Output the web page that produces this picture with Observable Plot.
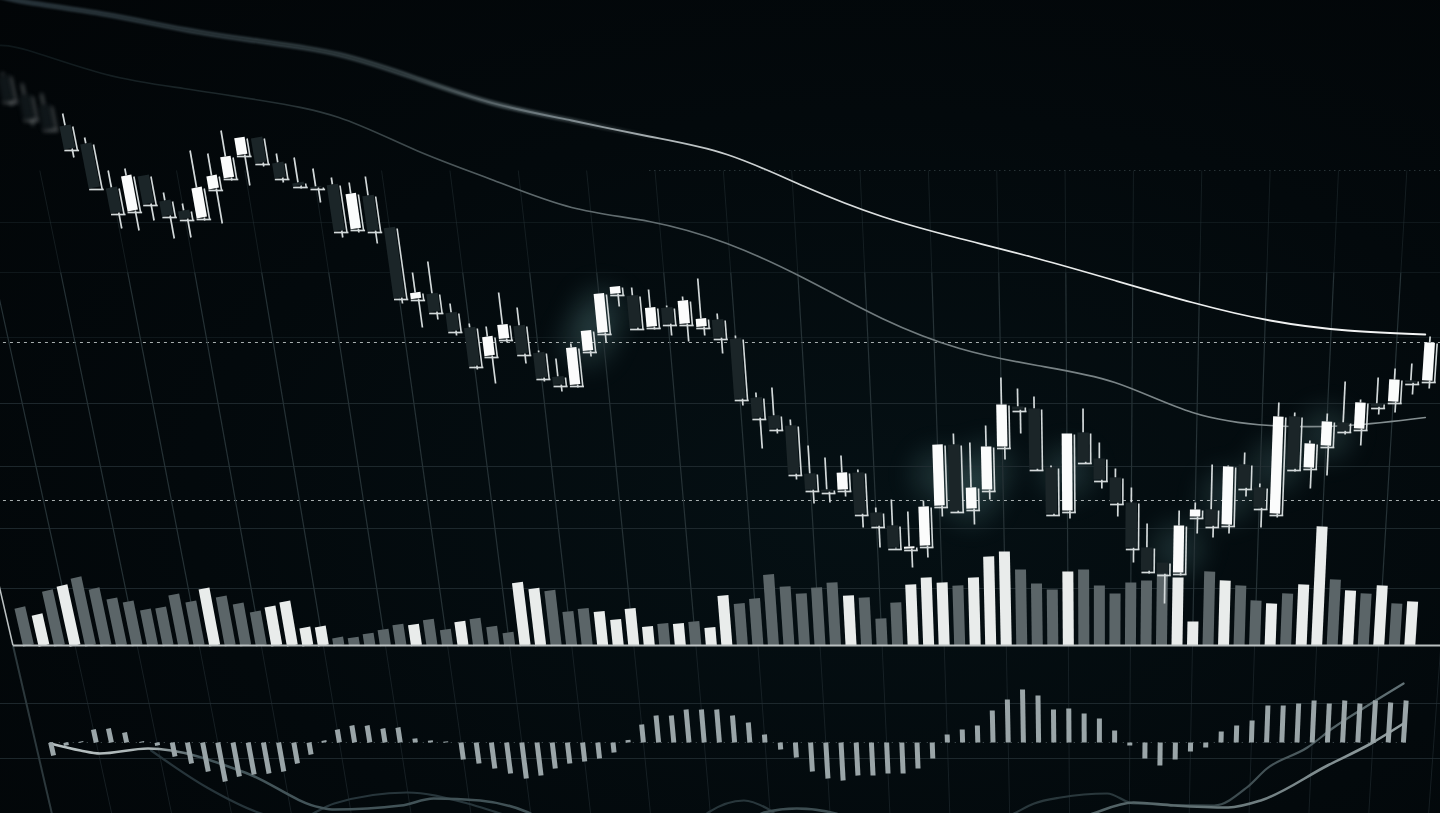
<!DOCTYPE html>
<html><head><meta charset="utf-8">
<script src="https://cdn.jsdelivr.net/npm/d3@7"></script>
<script src="https://cdn.jsdelivr.net/npm/@observablehq/plot@0.6"></script>
<style>
html,body{margin:0;padding:0;width:1440px;height:813px;overflow:hidden;background:#03080b}
#c{position:relative;width:1440px;height:813px;background:radial-gradient(ellipse at 60% 62%,#051014 0%,#03090c 55%,#020507 100%)}
svg{display:block;background:transparent!important;filter:blur(.35px)}
</style></head><body><div id="c"></div>
<script>
// session index of the first candle visible in the picture
const firstCandle = 6;
const high = [928,917,907,887,863,830,832,825,808,797,850,847,870,863,863,847,843,832,823,818,824,773,
 728,739,697,677,674,708,693,650,642,657,670,707,714,713,711,695,704,722,687,665,608,613,581,555,543,545,531,493,501,489,500,556,567,558,575,623,612,604,535,567,592,558,532,513,477,438,490,498,536,535,548,517,598,588,560,587,619,601,623,632,637,664];
const bodyTop = [925,905,895,875,857,813,825,825,800,790,813,825,844,863,863,838,818,814,816,807,805,773,
 708,707,688,673,664,676,675,648,624,653,670,707,714,705,693,693,700,682,681,662,603,585,575,527,511,528,528,488,475,454,494,556,556,513,554,596,594,592,533,567,568,542,523,498,453,438,475,491,491,534,536,513,584,584,557,579,578,598,597,621,620,658];
const bodyBot = [900,882,872,852,813,788,790,797,785,782,783,812,823,846,838,823,815,813,770,772,770,703,
 702,689,670,635,645,662,647,623,616,616,650,668,707,673,674,677,677,674,663,602,583,572,527,511,509,511,487,475,453,452,455,495,490,492,511,554,591,532,487,490,539,521,498,453,430,427,428,484,475,476,513,493,487,532,533,555,570,572,594,599,618,620];
const low = [895,875,870,843,813,772,770,780,762,763,780,777,820,815,834,818,812,798,763,768,757,697,
 673,681,665,631,617,658,637,619,609,613,644,658,694,671,671,665,659,665,647,595,552,567,521,497,498,504,473,453,452,433,443,484,488,476,501,541,567,530,485,482,537,512,484,438,427,397,425,467,463,467,504,473,483,529,512,525,566,555,586,588,606,612];
const upSessions = [1,3,12,16,17,18,19,25,28,32,33,37,38,39,40,42,44,45,53,57,58,59,61,62,63,67,74,75,77,80,82,83,85,87,89];
const volume = [38,31,55,60,68,57,47,44,36,38,51,44,57,49,42,34,39,44,18,19,8,8,12,16,21,21,26,16,24,27,
 19,13,63,57,55,34,37,34,26,37,19,22,22,24,18,50,42,47,71,59,52,58,63,50,48,27,43,61,68,63,60,
 68,89,94,76,62,56,74,76,60,52,63,65,72,68,24,74,65,60,45,42,52,61,119,66,55,52,60,42,44];
const macd = [-13,-3,1,13,14,10,1,-3,-14,-21,-29,-39,-34,-32,-31,-29,-21,-12,2,13,17,17,14,15,4,2,1,-17,-21,
 -26,-31,-36,-33,-26,-21,-19,-16,-10,2.5,18,27,27,33,33,33,27,20,8,-7,-15,-29,-36,-38,-33,-33,-31,-31,-26,-16,8,13,
 17,32,43,53,47,33,34,29,24,12,-3,-16,-23,-17,-9,-5,11,17,22,37,37,39,42,39,42,39,42,40,42];
const maSessions = [-2,0,5,10,15,20,25,30,35,40,45,50,55,60,65,70,75,80,85,90];
const maSlow = [1005,998,986,971,959,946,922,897,880,864,846,814,784,762,742,720,698,680,670,666];
const maFast = [955,950,926,912,900,883,850,820,793,779,757,722,682,652,635,618,588,575,575,583];
const signalSessions = [1.4,3.35,4.6,7.7,14.1,18.8,19.7,24,26.1,29.1,32.2,35,45,47.4,49.5,52,55,65,68.6,71.2,73.8,77.3,79.4,83.7,86.5,88.6];
const signalValues = [-1,-8,-11,-6,-31,-65,-67,-63,-56,-58,-70,-95,-95,-70,-66,-71,-95,-95,-71,-60,-63,-65,-58,-23,-1,19];
const dimSessions = [7.9,11.5,15,17,19.7,24.4,28.3,30.4,36,42,43.8,46.1,47.6,50,60,63.5,64.8,66.5,69.5,71.2,76.4,78.5,79.8,82.4,84.1,86.5,88.6];
const dimValues = [-8,-45,-71,-78,-61,-50,-61,-71,-95,-95,-70,-58,-66,-95,-95,-71,-61,-55,-51,-61,-63,-45,-26,-5,15,39,59];
const gridLower = [597,534,472,412,297,242];
const gridUpper = [778,728,663];
const dottedLevels = [830];
const dashLevels = [658,500];
const gridSessions = [3,7,11,15,19,23,27,31,35,39,43,47,51,55,59,63,67,71,75,79,83,87,91];
const glowSessions = [38,39,59,61,62,67,74,77,80,83];

const volBase = 355, macdZero = 258;
const up = new Set(upSessions);
const lean = (i, p) => 69.07 + (i - 69.07) * (4345 + p) / 4700;
const candles = high.map((h, k) => ({i: k + firstCandle, h, t: bodyTop[k], b: bodyBot[k], l: low[k], up: up.has(k + firstCandle)}));
const vols = volume.map((v, i) => ({i, v, up: up.has(i)}));
const bars = macd.map((m, i) => ({i, m}));
const toRows = (xs, ys) => xs.map((x, k) => ({x, y: ys[k]}));

const bar = (data, i, p1, p2, o) => Plot.link(data, {
  x1: d => lean(i(d), p1(d)), y1: p1, x2: d => lean(i(d), p2(d)), y2: p2, strokeLinecap: "butt", ...o});

// horizontal colour fades used by the long lines
const fades = {
  slowThin: [[0, "#0b1215", 0], [400, "#2b3639", 1], [560, "#79858a", 1], [720, "#c8cdce", 1], [950, "#e4e7e7", 1], [1440, "#f4f5f5", 1]],
  slowWide: [[0, "#27333a", 1], [380, "#344044", 1], [520, "#465256", 1], [660, "#5a6568", 0]],
  fast: [[0, "#0d1619", 1], [250, "#1f2a2d", 1], [400, "#3c474a", 1], [520, "#5c676a", 1], [950, "#737d80", 1], [1440, "#858f91", 1]],
  signal: [[40, "#b9c2c3", 1], [150, "#aab4b5", 1], [200, "#44555a", 1], [900, "#3c4c50", 1], [1150, "#566669", 1], [1420, "#98a4a6", 1]],
  dim: [[150, "#26343a", 1], [1150, "#2a383c", 1], [1420, "#66767a", 1]]
};
function gradientDefs() {
  const defs = d3.create("svg:defs");
  for (const [id, stops] of Object.entries(fades)) {
    const g = defs.append("linearGradient").attr("id", id).attr("gradientUnits", "userSpaceOnUse")
      .attr("x1", 0).attr("x2", 1440).attr("y1", 0).attr("y2", 0);
    for (const [x, c, o] of stops) g.append("stop").attr("offset", x / 1440).attr("stop-color", c).attr("stop-opacity", o);
  }
  return defs.node();
}

function candleMarks(data, extra = {}) {
  const white = data.filter(d => d.up), dark = data.filter(d => !d.up);
  const I = d => d.i, ink = "#d3d9da";
  return [
    bar(data, I, d => d.h, d => d.t, {stroke: ink, strokeWidth: 1.7, ...extra}),
    bar(data, I, d => d.b, d => d.l, {stroke: ink, strokeWidth: 1.7, dx: 2.5, ...extra}),
    bar(data, I, d => d.t - 1, d => d.b - 2, {stroke: ink, strokeWidth: 1.6, dx: 7.5, ...extra}),
    Plot.link(data, {x1: d => lean(d.i - 0.33, d.b - 2), x2: d => lean(d.i + 0.53, d.b - 2), y1: d => d.b - 2, y2: d => d.b - 2, stroke: ink, strokeWidth: 1.7, ...extra}),
    bar(dark, I, d => d.t, d => d.b, {stroke: "#1b2528", strokeWidth: 11.5, ...extra}),
    bar(white, I, d => d.t, d => d.b, {stroke: "#fbfcfc", strokeWidth: 10.5, ...extra})
  ];
}

const chart = Plot.plot({
  width: 1440, height: 813, margin: 0,
  x: {domain: [-28 / 15.52, 1412 / 15.52], axis: null},
  y: {domain: [187, 1000], axis: null},
  marks: [
    gradientDefs,
    // glow behind the bright candles
    Plot.dot(glowSessions.map(i => candles[i - firstCandle]), {
      x: d => lean(d.i, (d.t + d.b) / 2), y: d => (d.t + d.b) / 2, r: 26, fill: "#9fe0e0", fillOpacity: 0.14, imageFilter: "blur(13px)"}),
    // grid
    Plot.link(gridLower, {x1: -3, x2: 92, y1: d => d, y2: d => d, stroke: "#243034", strokeWidth: 1, strokeOpacity: 0.8}),
    Plot.link(gridUpper, {x1: -3, x2: 92, y1: d => d, y2: d => d, stroke: "#243034", strokeWidth: 1, strokeOpacity: 0.4}),
    Plot.link(dottedLevels, {x1: 40, x2: 92, y1: d => d, y2: d => d, stroke: "#3a474b", strokeWidth: 1, strokeDasharray: "1 4"}),
    Plot.link([258], {x1: 1.5, x2: 89, y1: d => d, y2: d => d, stroke: "#4a5659", strokeWidth: 1, strokeDasharray: "1 6"}),
    Plot.link(dashLevels, {x1: -3, x2: 92, y1: d => d, y2: d => d, stroke: "#c5cccd", strokeOpacity: 0.85, strokeWidth: 1, strokeDasharray: "3 4"}),
    bar(gridSessions, d => d, () => 728, () => 830, {stroke: "#263236", strokeWidth: 1, strokeOpacity: 0.5}),
    bar(gridSessions, d => d, () => 355, () => 728, {stroke: "#263236", strokeWidth: 1.2}),
    bar(gridSessions, d => d, () => 187, () => 355, {stroke: "#263236", strokeWidth: 1, strokeOpacity: 0.55}),
    bar([-1], d => d, () => 355, () => 426, {stroke: "#bcc2c3", strokeWidth: 1.5}),
    bar([-1], d => d, () => 187, () => 355, {stroke: "#2c383c", strokeWidth: 2}),
    // moving averages
    Plot.line(toRows(maSessions, maSlow), {x: "x", y: "y", curve: "natural", strokeWidth: 5, stroke: "url(#slowWide)", imageFilter: "blur(1px)"}),
    Plot.line(toRows(maSessions, maSlow), {x: "x", y: "y", curve: "natural", strokeWidth: 1.8, stroke: "url(#slowThin)"}),
    Plot.line(toRows(maSessions, maFast), {x: "x", y: "y", curve: "natural", strokeWidth: 1.7, stroke: "url(#fast)"}),
    // volume panel
    bar(vols, d => d.i, () => volBase, d => volBase + d.v, {stroke: d => d.up ? "#e9eceb" : "#5b6568", strokeWidth: 11}),
    Plot.link([volBase], {x1: -1, x2: 92, y1: d => d, y2: d => d, stroke: "#b9bfc0", strokeWidth: 2}),
    // oscillator panel
    Plot.line(toRows(dimSessions, dimValues.map(v => v + macdZero)), {x: "x", y: "y", curve: "monotone-x", stroke: "url(#dim)", strokeWidth: 2.2}),
    Plot.line(toRows(signalSessions, signalValues.map(v => v + macdZero)), {x: "x", y: "y", curve: "monotone-x", stroke: "url(#signal)", strokeWidth: 2.6}),
    bar(bars, d => d.i, () => macdZero, d => macdZero + d.m, {stroke: "#9aa5a8", strokeWidth: 5}),
    // candles
    ...candleMarks(candles.filter(d => d.i < 9), {imageFilter: "blur(2.2px)", strokeOpacity: 0.55}),
    ...candleMarks(candles.filter(d => d.i >= 9))
  ]
});
document.getElementById("c").appendChild(chart);
</script></body></html>
